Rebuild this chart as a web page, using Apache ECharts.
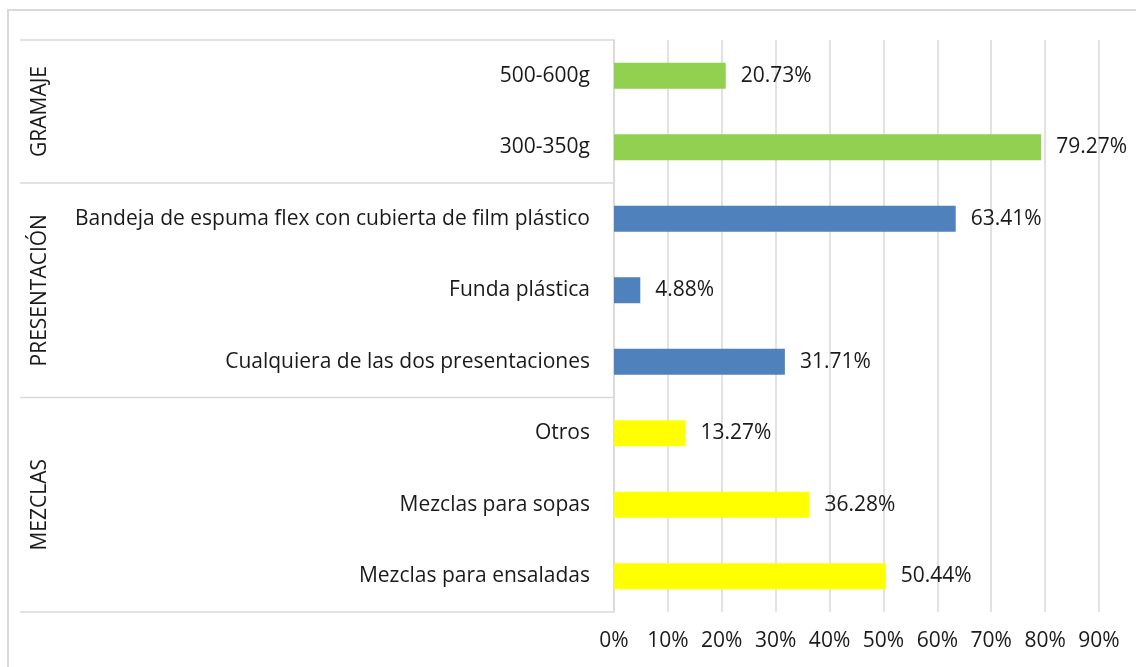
<!DOCTYPE html>
<html>
<head>
<meta charset="utf-8">
<script src="https://cdn.jsdelivr.net/npm/echarts@6/dist/echarts.min.js"></script>
<style>
  html, body { margin: 0; padding: 0; background: #fff; overflow: hidden; }
  #frame { position: absolute; left: 7px; top: 9px; width: 1200px; height: 720px; border: 2px solid #d9d9d9; box-sizing: border-box; }
  #chart { position: absolute; left: 0; top: 0; width: 1136px; height: 667px; }
</style>
</head>
<body>
<div id="frame"></div>
<div id="chart"></div>
<script>
// categories top to bottom
const categories = [
  "500-600g",
  "300-350g",
  "Bandeja de espuma flex con cubierta de film plástico",
  "Funda plástica",
  "Cualquiera de las dos presentaciones",
  "Otros",
  "Mezclas para sopas",
  "Mezclas para ensaladas"
];
const values = [20.73, 79.27, 63.41, 4.88, 31.71, 13.27, 36.28, 50.44];
const groupNames = ["GRAMAJE", "PRESENTACIÓN", "MEZCLAS"];
const groupSizes = [2, 3, 3];
const groupColors = ["#92D050", "#4F81BD", "#FFFF00"];
const xMin = 0, xMax = 90, xStep = 10;

const font = "'Open Sans', Lato, sans-serif";
const fontSize = 21;
const textColor = "#1a1a1a";
const lineColor = "#d9d9d9";

// color of each bar from its group
const barColors = [];
groupSizes.forEach((n, g) => { for (let i = 0; i < n; i++) barColors.push(groupColors[g]); });

const chart = echarts.init(document.getElementById("chart"));

chart.setOption({
  animation: false,
  grid: { left: 614, right: 37, top: 40, bottom: 55 },
  xAxis: {
    type: "value",
    min: xMin,
    max: xMax,
    interval: xStep,
    axisLine: { show: false },
    axisTick: { show: false },
    axisLabel: {
      formatter: "{value}%",
      color: textColor,
      fontFamily: font,
      fontSize: fontSize,
      margin: 19
    },
    splitLine: { lineStyle: { color: lineColor, width: 1.5 } }
  },
  yAxis: {
    type: "category",
    inverse: true,
    data: categories,
    axisLine: { lineStyle: { color: lineColor, width: 1.5 } },
    axisTick: { show: false },
    axisLabel: {
      color: textColor,
      fontFamily: font,
      fontSize: fontSize,
      margin: 24
    }
  },
  series: [{
    type: "bar",
    barWidth: 26,
    data: values.map((v, i) => ({ value: v, itemStyle: { color: barColors[i] } })),
    label: {
      show: true,
      position: "right",
      distance: 15,
      formatter: p => p.value.toFixed(2) + "%",
      color: textColor,
      fontFamily: font,
      fontSize: fontSize
    }
  }]
});

// group separators and rotated group names, placed from the category scale
const py = i => chart.convertToPixel({ yAxisIndex: 0 }, i);
const half = (py(1) - py(0)) / 2;
const axisX = chart.convertToPixel({ xAxisIndex: 0 }, 0);
const graphics = [];
let start = 0;
const bounds = [py(0) - half];
groupSizes.forEach(n => { start += n; bounds.push(py(start - 1) + half); });
bounds.forEach(y => {
  graphics.push({
    type: "line",
    shape: { x1: 20, y1: y, x2: axisX, y2: y },
    style: { stroke: lineColor, lineWidth: 1.5 }
  });
});
groupNames.forEach((name, g) => {
  graphics.push({
    type: "text",
    x: 40,
    y: (bounds[g] + bounds[g + 1]) / 2,
    rotation: Math.PI / 2,
    style: {
      text: name,
      fill: textColor,
      font: fontSize + "px " + font,
      align: "center",
      verticalAlign: "middle"
    }
  });
});
chart.setOption({ graphic: graphics });
</script>
</body>
</html>
